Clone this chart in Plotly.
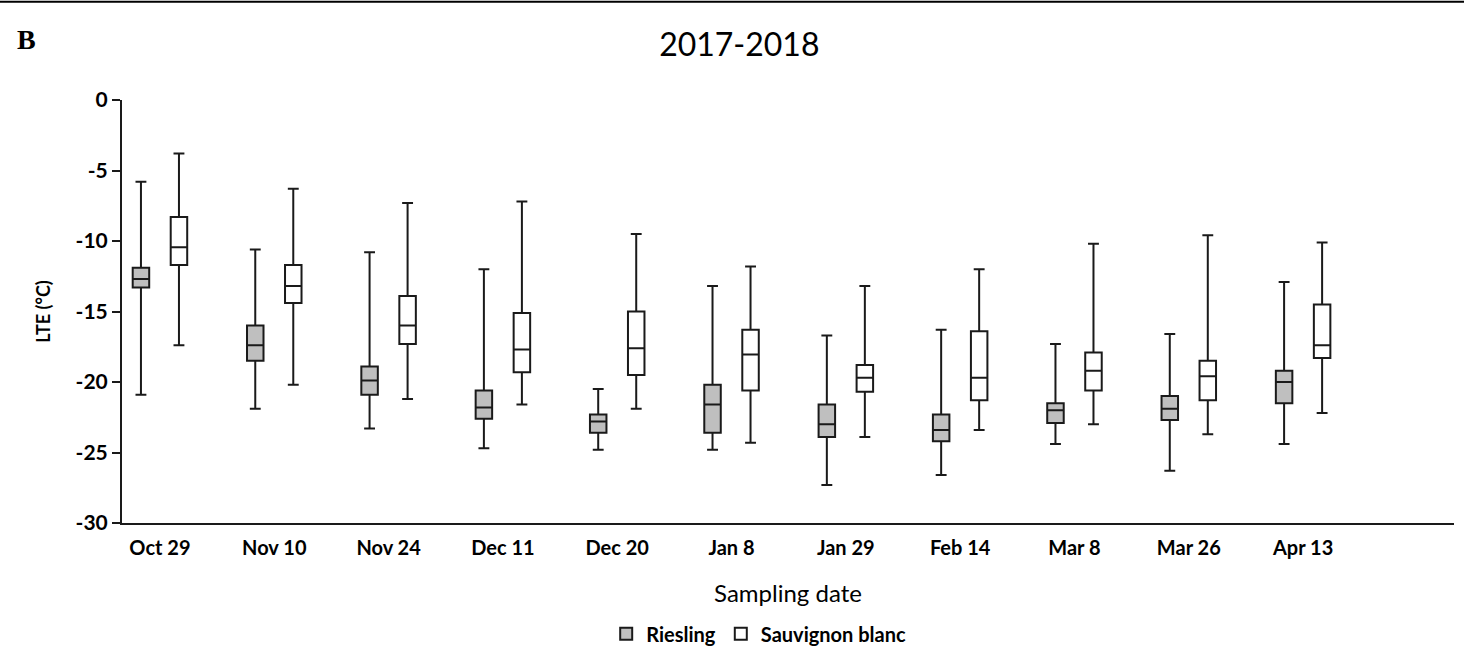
import plotly.graph_objects as go

dates = ["Oct 29", "Nov 10", "Nov 24", "Dec 11", "Dec 20", "Jan 8",
         "Jan 29", "Feb 14", "Mar 8", "Mar 26", "Apr 13"]

y_tickvals = [0, -5, -10, -15, -20, -25, -30]
y_ticktext = ["0", "-5", "-10", "-15", "-20", "-25", "-30"]

# Riesling
ries_max = [-5.8, -10.6, -10.8, -12.0, -20.5, -13.2, -16.7, -16.3, -17.3, -16.6, -12.9]
ries_q3 = [-11.9, -16.0, -18.9, -20.6, -22.3, -20.2, -21.6, -22.3, -21.5, -21.0, -19.2]
ries_med = [-12.7, -17.4, -19.9, -21.8, -22.8, -21.6, -23.0, -23.4, -22.0, -21.9, -20.0]
ries_q1 = [-13.3, -18.5, -20.9, -22.6, -23.6, -23.6, -23.9, -24.2, -22.9, -22.7, -21.5]
ries_min = [-20.9, -21.9, -23.3, -24.7, -24.8, -24.8, -27.3, -26.6, -24.4, -26.3, -24.4]

# Sauvignon blanc
sb_max = [-3.8, -6.3, -7.3, -7.2, -9.5, -11.8, -13.2, -12.0, -10.2, -9.6, -10.1]
sb_q3 = [-8.3, -11.7, -13.9, -15.1, -15.0, -16.3, -18.8, -16.4, -17.9, -18.5, -14.5]
sb_med = [-10.45, -13.2, -16.0, -17.7, -17.6, -18.05, -19.7, -19.7, -19.2, -19.6, -17.4]
sb_q1 = [-11.7, -14.4, -17.3, -19.3, -19.5, -20.6, -20.7, -21.3, -20.6, -21.3, -18.3]
sb_min = [-17.4, -20.2, -21.2, -21.6, -21.9, -24.3, -23.9, -23.4, -23.0, -23.7, -22.2]

FONT = "Lato"
LINE = "#1a1a1a"

fig = go.Figure()
fig.add_trace(go.Box(
    name="Riesling", x=dates, q1=ries_q1, median=ries_med, q3=ries_q3,
    lowerfence=ries_min, upperfence=ries_max,
    fillcolor="#BFBFBF", line=dict(color=LINE, width=2),
    whiskerwidth=0.66, boxpoints=False,
))
fig.add_trace(go.Box(
    name="Sauvignon blanc", x=dates, q1=sb_q1, median=sb_med, q3=sb_q3,
    lowerfence=sb_min, upperfence=sb_max,
    fillcolor="#FFFFFF", line=dict(color=LINE, width=2),
    whiskerwidth=0.66, boxpoints=False,
))

fig.update_layout(
    width=1464, height=670,
    paper_bgcolor="white", plot_bgcolor="white",
    margin=dict(l=122, r=10, t=100, b=147),
    boxmode="group", boxgap=0.335, boxgroupgap=0.566,
    font=dict(family=FONT, color="#000000"),
    title=dict(text="2017-2018", x=0.505, xanchor="center", y=0.933, yanchor="middle",
               font=dict(family=FONT, size=32, color="#000000")),
    showlegend=True,
    legend=dict(orientation="h", x=0.478, xanchor="center", y=-0.262, yanchor="middle",
                font=dict(family=FONT, size=20, color="#000000", weight="bold"),
                tracegroupgap=0),
    xaxis=dict(
        type="category", categoryorder="array", categoryarray=dates,
        range=[-0.332, 11.32], showline=True, linecolor=LINE, linewidth=2,
        ticks="", showgrid=False, zeroline=False, ticklabelstandoff=6,
        tickfont=dict(family=FONT, size=20, color="#000000", weight="bold"),
        title=dict(text="Sampling date", font=dict(family=FONT, size=24, color="#000000"),
                   standoff=27),
    ),
    yaxis=dict(
        range=[-30, 0], tickmode="array", tickvals=y_tickvals, ticktext=y_ticktext,
        showline=True, linecolor=LINE, linewidth=2,
        ticks="outside", ticklen=8, tickwidth=2, tickcolor=LINE,
        showgrid=False, zeroline=False,
        tickfont=dict(family=FONT, size=21, color="#000000", weight="bold"),
        title=dict(text="LTE (°C)", font=dict(family=FONT, size=18, color="#000000", weight="bold"),
                   standoff=20),
    ),
    annotations=[dict(text="<b>B</b>", xref="paper", yref="paper", x=-0.072, y=1.142,
                      xanchor="center", yanchor="middle", showarrow=False,
                      font=dict(family="Liberation Serif", size=28, color="#000000"))],
    shapes=[dict(type="line", xref="paper", yref="paper", x0=-0.1, x1=1.01, y0=1.232, y1=1.232,
                 line=dict(color="#000000", width=2))],
)

fig.write_html("out.html", config={"displayModeBar": False},
               post_script="document.body.style.margin='0';document.body.style.overflow='hidden';")
